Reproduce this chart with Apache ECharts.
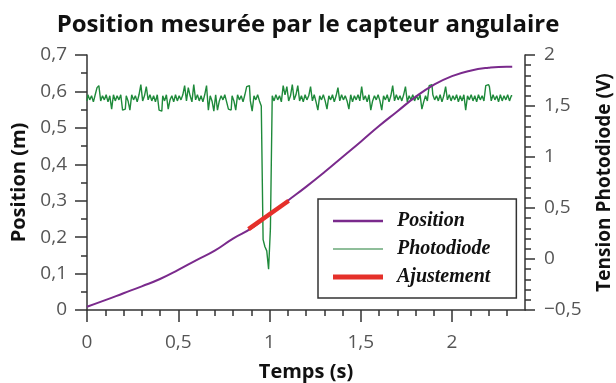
<!DOCTYPE html>
<html>
<head>
<meta charset="utf-8">
<script src="https://cdn.jsdelivr.net/npm/echarts@6/dist/echarts.min.js"></script>
<style>
  html, body { margin: 0; padding: 0; background: #fff; }
  #chart { width: 616px; height: 383px; }
</style>
</head>
<body>
<div id="chart"></div>
<script>
// position mesurée (m) en fonction du temps (s)
const posTime = [0, 0.1, 0.2, 0.3, 0.4, 0.5, 0.6, 0.7, 0.8, 0.9, 1.0, 1.1, 1.2, 1.3, 1.4, 1.5, 1.6, 1.7, 1.8, 1.9, 2.0, 2.1, 2.2, 2.3, 2.33];
const posVal = [0.009, 0.027, 0.046, 0.065, 0.085, 0.110, 0.137, 0.163, 0.196, 0.224, 0.262, 0.300, 0.338, 0.378, 0.420, 0.462, 0.505, 0.545, 0.585, 0.618, 0.642, 0.657, 0.665, 0.668, 0.668];

// droite d'ajustement autour de t = 1 s
const fitTime = [0.885, 1.105];
const fitVal = [0.222, 0.300];

// tension photodiode (V), un point toutes les 0,01 s
const photoStep = 0.01;
const photoVal = [
  1.55, 1.61, 1.56, 1.60, 1.54, 1.61, 1.68, 1.70, 1.55, 1.60,
  1.56, 1.61, 1.54, 1.60, 1.47, 1.61, 1.55, 1.60, 1.56, 1.61,
  1.46, 1.47, 1.60, 1.55, 1.46, 1.61, 1.56, 1.60, 1.54, 1.61,
  1.71, 1.55, 1.60, 1.69, 1.56, 1.61, 1.55, 1.60, 1.54, 1.61,
  1.46, 1.45, 1.60, 1.55, 1.61, 1.47, 1.56, 1.60, 1.54, 1.61,
  1.55, 1.60, 1.56, 1.61, 1.70, 1.55, 1.68, 1.60, 1.54, 1.71,
  1.56, 1.61, 1.55, 1.60, 1.54, 1.61, 1.70, 1.46, 1.60, 1.55,
  1.45, 1.61, 1.46, 1.55, 1.60, 1.56, 1.61, 1.54, 1.47, 1.46,
  1.60, 1.55, 1.46, 1.61, 1.56, 1.60, 1.54, 1.61, 1.69, 1.70,
  1.55, 1.45, 1.60, 1.56, 1.61, 1.55, 1.50, 0.19, 0.12, 0.08,
  -0.10, 0.30, 1.60, 1.55, 1.61, 1.56, 1.60, 1.54, 1.70, 1.61,
  1.69, 1.55, 1.60, 1.71, 1.56, 1.61, 1.70, 1.55, 1.60, 1.54,
  1.61, 1.56, 1.60, 1.69, 1.55, 1.61, 1.54, 1.46, 1.60, 1.56,
  1.61, 1.55, 1.47, 1.60, 1.56, 1.61, 1.54, 1.60, 1.68, 1.55,
  1.61, 1.56, 1.60, 1.55, 1.47, 1.61, 1.54, 1.60, 1.56, 1.61,
  1.55, 1.69, 1.56, 1.60, 1.54, 1.61, 1.46, 1.55, 1.60, 1.56,
  1.61, 1.55, 1.46, 1.60, 1.56, 1.61, 1.54, 1.60, 1.70, 1.55,
  1.61, 1.56, 1.60, 1.55, 1.61, 1.69, 1.54, 1.60, 1.56, 1.61,
  1.55, 1.60, 1.56, 1.61, 1.47, 1.54, 1.60, 1.55, 1.70, 1.71,
  1.61, 1.56, 1.60, 1.55, 1.61, 1.54, 1.60, 1.69, 1.56, 1.61,
  1.55, 1.60, 1.56, 1.61, 1.54, 1.60, 1.55, 1.61, 1.46, 1.60,
  1.56, 1.61, 1.55, 1.60, 1.54, 1.61, 1.56, 1.60, 1.55, 1.70,
  1.71, 1.69, 1.55, 1.61, 1.56, 1.60, 1.54, 1.61, 1.55, 1.60,
  1.56, 1.61, 1.55, 1.60
];

// graduations de l'axe des temps
const timeMajorTicks = [0, 0.5, 1, 1.5, 2];
const timeMinorTicks = [0.1, 0.2, 0.3, 0.4, 0.6, 0.7, 0.8, 0.9, 1.1, 1.2, 1.3, 1.4, 1.6, 1.7, 1.8, 1.9, 2.1, 2.2, 2.3];

const posData = posTime.map((t, i) => [t, posVal[i]]);
const fitData = fitTime.map((t, i) => [t, fitVal[i]]);
const photoData = photoVal.map((v, i) => [+(i * photoStep).toFixed(2), v]);

const fr = v => String(v).replace('.', ',').replace('-', '\u2212');

const axisLineStyle = { color: '#333', width: 1.5 };
const labelStyle = { color: '#555', fontSize: 19, fontFamily: 'Open Sans' };
const nameStyle = { color: '#111', fontSize: 20, fontWeight: 'bold', fontFamily: 'Open Sans' };

const chart = echarts.init(document.getElementById('chart'));
chart.setOption({
  animation: false,
  title: {
    text: 'Position mesurée par le capteur angulaire',
    left: 'center',
    top: 8,
    textStyle: { color: '#111', fontSize: 24, fontWeight: 'bold', fontFamily: 'Open Sans' }
  },
  grid: { left: 87, right: 91, top: 55, bottom: 73, outerBoundsMode: 'none' },
  legend: {
    orient: 'vertical',
    left: 318,
    top: 199,
    padding: [12, 26, 11, 15],
    itemGap: 8,
    itemWidth: 50,
    itemHeight: 14,
    borderColor: '#333',
    borderWidth: 1.5,
    textStyle: {
      color: '#111',
      fontSize: 20,
      lineHeight: 20,
      fontStyle: 'italic',
      fontWeight: 'bold',
      fontFamily: 'Liberation Serif',
      padding: [0, 0, 0, 9]
    },
    data: [
      { name: 'Position', icon: 'path://M0,0H50V2.6H0Z' },
      { name: 'Photodiode', icon: 'path://M0,0H50V1.3H0Z', itemStyle: { color: '#6aa878' } },
      { name: 'Ajustement', icon: 'path://M0,0H50V5H0Z' }
    ]
  },
  xAxis: [
    {
      type: 'value',
      min: 0,
      max: 2.4,
      name: 'Temps (s)',
      nameLocation: 'middle',
      nameGap: 52,
      nameMoveOverlap: false,
      nameTextStyle: nameStyle,
      axisLine: { onZero: false, lineStyle: axisLineStyle },
      axisTick: { customValues: timeMajorTicks, length: 12, lineStyle: axisLineStyle },
      axisLabel: { customValues: timeMajorTicks, formatter: fr, margin: 23, ...labelStyle },
      splitLine: { show: false }
    },
    {
      type: 'value',
      min: 0,
      max: 2.4,
      position: 'bottom',
      axisLine: { show: false },
      axisTick: { customValues: timeMinorTicks, length: 6, lineStyle: axisLineStyle },
      axisLabel: { show: false },
      splitLine: { show: false }
    }
  ],
  yAxis: [
    {
      type: 'value',
      min: 0,
      max: 0.7,
      interval: 0.1,
      name: 'Position (m)',
      nameLocation: 'middle',
      nameGap: 58,
      nameMoveOverlap: false,
      nameTextStyle: nameStyle,
      axisLine: { show: true, onZero: false, lineStyle: axisLineStyle },
      axisTick: { show: true, length: 12, lineStyle: axisLineStyle },
      minorTick: { show: true, splitNumber: 2, length: 6, lineStyle: axisLineStyle },
      axisLabel: { formatter: fr, margin: 20, ...labelStyle },
      splitLine: { show: false }
    },
    {
      type: 'value',
      min: -0.5,
      max: 2,
      interval: 0.5,
      position: 'right',
      name: 'Tension Photodiode (V)',
      nameLocation: 'middle',
      nameGap: 70,
      nameMoveOverlap: false,
      nameTextStyle: { ...nameStyle, fontSize: 19 },
      axisLine: { show: true, onZero: false, lineStyle: axisLineStyle },
      axisTick: { show: true, length: 10, lineStyle: axisLineStyle },
      minorTick: { show: true, splitNumber: 5, length: 6, lineStyle: axisLineStyle },
      axisLabel: { formatter: fr, margin: 19, ...labelStyle },
      splitLine: { show: false }
    }
  ],
  series: [
    {
      name: 'Position',
      type: 'line',
      data: posData,
      smooth: true,
      symbol: 'none',
      color: '#7a2a8c',
      lineStyle: { width: 2 },
      z: 3
    },
    {
      name: 'Photodiode',
      type: 'line',
      yAxisIndex: 1,
      data: photoData,
      step: 'middle',
      symbol: 'none',
      color: '#1f8a3b',
      lineStyle: { width: 1.4 },
      z: 2
    },
    {
      name: 'Ajustement',
      type: 'line',
      data: fitData,
      symbol: 'none',
      color: '#e5302a',
      lineStyle: { width: 4.5 },
      z: 4
    }
  ]
});
</script>
</body>
</html>
